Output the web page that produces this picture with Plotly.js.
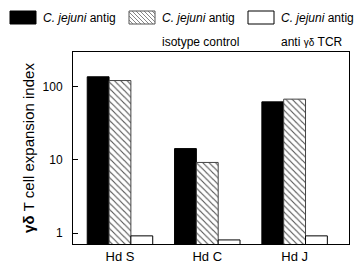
<!DOCTYPE html>
<html>
<head>
<meta charset="utf-8">
<script src="https://cdn.plot.ly/plotly-3.0.1.min.js"></script>
<style>html,body{margin:0;padding:0;background:#fff;}#chart{width:358px;height:268px;}</style>
</head>
<body>
<div id="chart"></div>
<script>
const categories = ["Hd S", "Hd C", "Hd J"];
const seriesNames = ["<i>C. jejuni</i> antig", "<i>C. jejuni</i> antig", "<i>C. jejuni</i> antig"];
const seriesSubtitles = ["", "isotype control", "anti <span style=\"font-size:10px\">γδ</span> TCR"];
const antigValues = [135, 14.2, 61.5];
const isotypeValues = [120, 9.2, 67];
const antiTCRValues = [0.92, 0.81, 0.92];
const yTickVals = [1, 10, 100];
const yTickText = ["1", "10", "100"];

const FONT = "Liberation Sans, Arial, sans-serif";
const M = {l: 73, r: 9, t: 52, b: 24};
const W = 358, H = 268;
const PW = W - M.l - M.r, PH = H - M.t - M.b;
const px2x = p => (p - M.l) / PW;
const py2y = p => (H - M.b - p) / PH;

const traces = [
  {
    type: "bar", x: categories, y: antigValues, name: seriesNames[0],
    marker: {color: "#000000", line: {color: "#000000", width: 1}}
  },
  {
    type: "bar", x: categories, y: isotypeValues, name: seriesNames[1],
    marker: {color: "#ffffff", line: {color: "#444444", width: 1},
      pattern: {shape: "\\", fgcolor: "#555555", bgcolor: "#ffffff", size: 4.5, solidity: 0.25}}
  },
  {
    type: "bar", x: categories, y: antiTCRValues, name: seriesNames[2],
    marker: {color: "#ffffff", line: {color: "#000000", width: 1}}
  }
];

// Custom legend (swatches + text)
const legendX = [10, 129, 248];
const swW = 26, swTop = 11, swBot = 24;
const shapes = [];
const annotations = [];
const swatchStyles = [
  {fill: "#000000", line: "#000000", hatch: false},
  {fill: "#ffffff", line: "#555555", hatch: true},
  {fill: "#ffffff", line: "#000000", hatch: false}
];
legendX.forEach((lx, i) => {
  const st = swatchStyles[i];
  shapes.push({
    type: "rect", xref: "paper", yref: "paper", layer: "above",
    x0: px2x(lx), x1: px2x(lx + swW), y0: py2y(swBot), y1: py2y(swTop),
    fillcolor: st.fill, line: {color: st.line, width: 1}
  });
  if (st.hatch) {
    let d = "";
    const step = 4;
    for (let k = -(swBot - swTop); k < swW; k += step) {
      let xa = lx + k, ya = swTop, xb = lx + k + (swBot - swTop), yb = swBot;
      if (xa < lx) { ya += (lx - xa); xa = lx; }
      if (xb > lx + swW) { yb -= (xb - (lx + swW)); xb = lx + swW; }
      if (ya >= yb) continue;
      d += `M${px2x(xa)},${py2y(ya)}L${px2x(xb)},${py2y(yb)}`;
    }
    shapes.push({type: "path", xref: "paper", yref: "paper", layer: "above",
      path: d, line: {color: "#666666", width: 0.8}});
  }
  annotations.push({
    text: seriesNames[i], xref: "paper", yref: "paper", showarrow: false,
    x: px2x(lx + swW + 5), y: py2y(18), xanchor: "left", yanchor: "middle",
    font: {family: FONT, size: 12, color: "#000"}
  });
  if (seriesSubtitles[i]) {
    annotations.push({
      text: seriesSubtitles[i], xref: "paper", yref: "paper", showarrow: false,
      x: px2x(lx + swW + 5), y: py2y(41.5), xanchor: "left", yanchor: "middle",
      font: {family: FONT, size: 12, color: "#000"}
    });
  }
});

const layout = {
  width: W, height: H,
  margin: {l: M.l, r: M.r, t: M.t, b: M.b, pad: 0},
  paper_bgcolor: "#ffffff", plot_bgcolor: "#ffffff",
  font: {family: FONT, size: 12, color: "#000"},
  barmode: "group", bargap: 0.25, bargroupgap: 0,
  showlegend: false,
  xaxis: {
    type: "category", range: [-0.538, 2.623],
    showline: true, linecolor: "#000", linewidth: 1, mirror: true,
    ticks: "", showgrid: false, zeroline: false,
    tickfont: {family: FONT, size: 13, color: "#000"}
  },
  yaxis: {
    type: "log", range: [-0.147, 2.468],
    tickvals: yTickVals, ticktext: yTickText,
    showline: true, linecolor: "#000", linewidth: 1, mirror: true,
    ticks: "inside", ticklen: 5, tickcolor: "#000", tickwidth: 1,
    ticklabelstandoff: 7,
    showgrid: false, zeroline: false,
    tickfont: {family: FONT, size: 12, color: "#000"},
    title: {text: "<b>γδ</b> T cell expansion index", font: {family: FONT, size: 15, color: "#000"}, standoff: 4}
  },
  shapes: shapes,
  annotations: annotations
};

Plotly.newPlot("chart", traces, layout, {displayModeBar: false, staticPlot: true});
</script>
</body>
</html>
